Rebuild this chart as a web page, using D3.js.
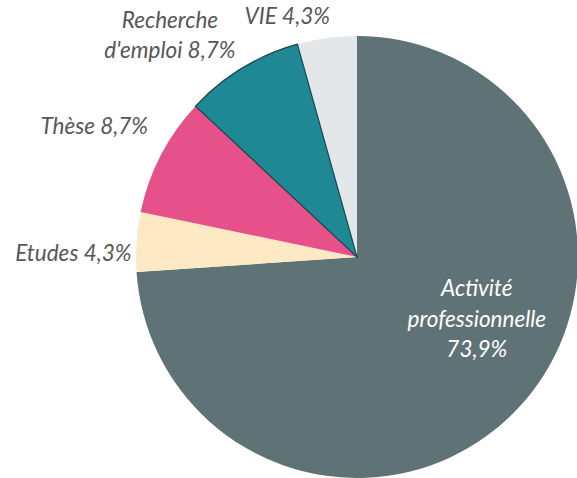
<!DOCTYPE html>
<html>
<head>
<meta charset="utf-8">
<script src="https://cdn.jsdelivr.net/npm/d3@7"></script>
<style>
  body { margin: 0; background: #fff; }
  svg { display: block; }
  text { font-family: Lato, "Open Sans", sans-serif; font-style: italic; }
</style>
</head>
<body>
<svg id="chart" width="577" height="478"></svg>
<script>
// Situation des diplômés - pie chart
const categories = ['Activité professionnelle', 'Etudes', 'Thèse', "Recherche d'emploi", 'VIE'];
const counts = [17, 1, 2, 2, 1];
const labelLines = [
    ['Activité', 'professionnelle'],
    ['Etudes'],
    ['Thèse'],
    ['Recherche', "d'emploi"],
    ['VIE']
];
const colors = ['#5f7377', '#fee9c5', '#e65189', '#1f8895', '#e3e7e9'];

const width = 577;
const height = 478;
const cx = 357;
const cy = 257;
const radius = 221;
const fontSize = 22.5;
const lineHeight = 30.5;

// label placement: inside for the big slice, outside for others
const labelSetup = [
    { inside: true, r: radius * 0.55, dx: 31, dy: -19, anchor: 'middle', color: '#ffffff' },
    { inside: false, r: radius + 12, dx: 7, dy: 14, anchor: 'end', color: '#575757' },
    { inside: false, r: radius + 12, dx: -2, dy: -22, anchor: 'end', color: '#575757' },
    { inside: false, r: radius + 12, dx: -66, dy: -21, anchor: 'middle', color: '#575757' },
    { inside: false, r: radius + 12, dx: -38, dy: -8, anchor: 'middle', color: '#575757' }
];

const total = d3.sum(counts);
const data = categories.map((c, i) => ({ name: c, value: counts[i], i: i }));

const svg = d3.select('#chart');
const g = svg.append('g').attr('transform', `translate(${cx}, ${cy})`);

const pie = d3.pie().value(d => d.value).sort(null);
const arcs = pie(data);

const arc = d3.arc().innerRadius(0).outerRadius(radius);

g.selectAll('.slice')
    .data(arcs)
    .enter()
    .append('path')
    .attr('class', 'slice')
    .attr('d', arc)
    .style('fill', d => colors[d.data.i])
    .style('stroke', d => d.data.i === 3 ? '#17464c' : 'none')
    .style('stroke-width', 1.2);

// draw outlined slice on top so its border is complete
g.selectAll('.slice').filter(d => d.data.i === 3).raise();

const fmt = v => (Math.round(v / total * 1000) / 10).toFixed(1).replace('.', ',') + '%';

arcs.forEach(d => {
    const s = labelSetup[d.data.i];
    const la = d3.arc().innerRadius(s.r).outerRadius(s.r);
    const [x0, y0] = la.centroid(d);
    const x = x0 + s.dx;
    const y = y0 + s.dy;
    const lines = labelLines[d.data.i].slice();
    const pct = fmt(d.data.value);
    if (s.inside) {
        lines.push(pct);
    } else {
        lines[lines.length - 1] += ' ' + pct;
    }
    const t = g.append('text')
        .attr('x', x)
        .attr('y', y - (lines.length - 1) * lineHeight / 2)
        .style('font-size', fontSize + 'px')
        .style('fill', s.color)
        .style('text-anchor', s.anchor)
        .style('dominant-baseline', 'middle');
    lines.forEach((l, k) => {
        t.append('tspan')
            .attr('x', x)
            .attr('dy', k === 0 ? 0 : lineHeight)
            .text(l);
    });
});
</script>
</body>
</html>
